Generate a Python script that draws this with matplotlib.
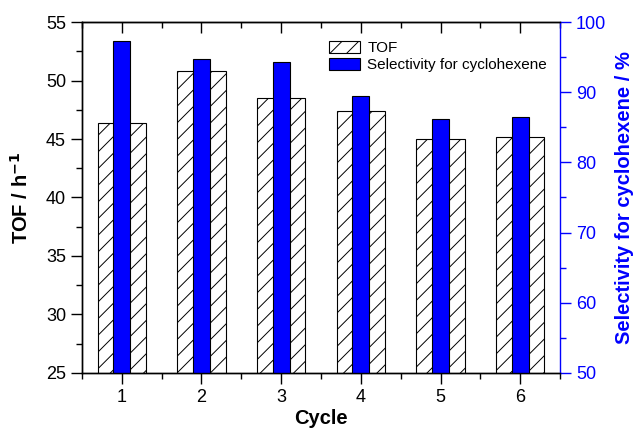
import numpy as np
import matplotlib
matplotlib.use('Agg')
import matplotlib.pyplot as plt
from matplotlib.ticker import MultipleLocator

plt.rcParams['font.family'] = ['Liberation Sans', 'DejaVu Sans']
plt.rcParams['hatch.linewidth'] = 0.7

# data
cycles = [1, 2, 3, 4, 5, 6]
tof = [46.4, 50.8, 48.5, 47.4, 45.0, 45.2]
selectivity = [97.3, 94.8, 94.3, 89.4, 86.2, 86.5]

fig = plt.figure(figsize=(6.34, 4.30), dpi=100)
ax = fig.add_axes([0.1293, 0.1326, 0.754, 0.8162])
ax2 = ax.twinx()

# hatched TOF bars (wide) with the blue selectivity bars on top (narrow)
ax.bar(cycles, tof, width=0.61, bottom=0, color='white', edgecolor='black',
       linewidth=0.8, hatch='//', label='TOF')
ax2.bar(cycles, selectivity, width=0.21, color='#0000ff', edgecolor='black',
        linewidth=0.8, label='Selectivity for cyclohexene')

ax.set_xlim(0.5, 6.5)
ax.set_ylim(25, 55)
ax2.set_ylim(50, 100)

ax.xaxis.set_major_locator(MultipleLocator(1))
ax.xaxis.set_minor_locator(MultipleLocator(0.5))
ax.yaxis.set_major_locator(MultipleLocator(5))
ax.yaxis.set_minor_locator(MultipleLocator(2.5))
ax2.yaxis.set_major_locator(MultipleLocator(10))
ax2.yaxis.set_minor_locator(MultipleLocator(5))

ax.tick_params(which='major', direction='out', length=8, width=1, labelsize=13)
ax.tick_params(which='minor', direction='out', length=4.5, width=1)
ax.tick_params(axis='y', right=False, which='both')
ax2.tick_params(which='major', direction='out', length=8, width=1,
                labelsize=13, colors='#0000ff')
ax2.tick_params(which='minor', direction='out', length=4.5, width=1,
                colors='#0000ff')

# top ticks pointing inward
top = ax.secondary_xaxis('top')
top.xaxis.set_major_locator(MultipleLocator(1))
top.xaxis.set_minor_locator(MultipleLocator(0.5))
top.tick_params(which='major', direction='in', length=8, width=1, labeltop=False)
top.tick_params(which='minor', direction='in', length=4.5, width=1)

for a in (ax, ax2):
    for s in a.spines.values():
        s.set_linewidth(1)
ax.spines['right'].set_visible(False)
ax2.spines['right'].set_color('#0000ff')

ax.set_xlabel('Cycle', fontsize=14.5, fontweight='bold', labelpad=2)
ax.set_ylabel('TOF / h$^{\\mathbf{-1}}$', fontsize=14.5, fontweight='bold', labelpad=10)
ax2.set_ylabel('Selectivity for cyclohexene / %', fontsize=14.5,
               fontweight='bold', color='#0000ff', labelpad=6)

h1, l1 = ax.get_legend_handles_labels()
h2, l2 = ax2.get_legend_handles_labels()
ax2.legend(h1 + h2, l1 + l2, loc='upper left', bbox_to_anchor=(0.517, 0.947),
           frameon=False, fontsize=11, borderpad=0, labelspacing=0.15,
           handlelength=2.0, handleheight=0.9, handletextpad=0.5,
           borderaxespad=0)

fig.savefig('out.png', dpi=100)
